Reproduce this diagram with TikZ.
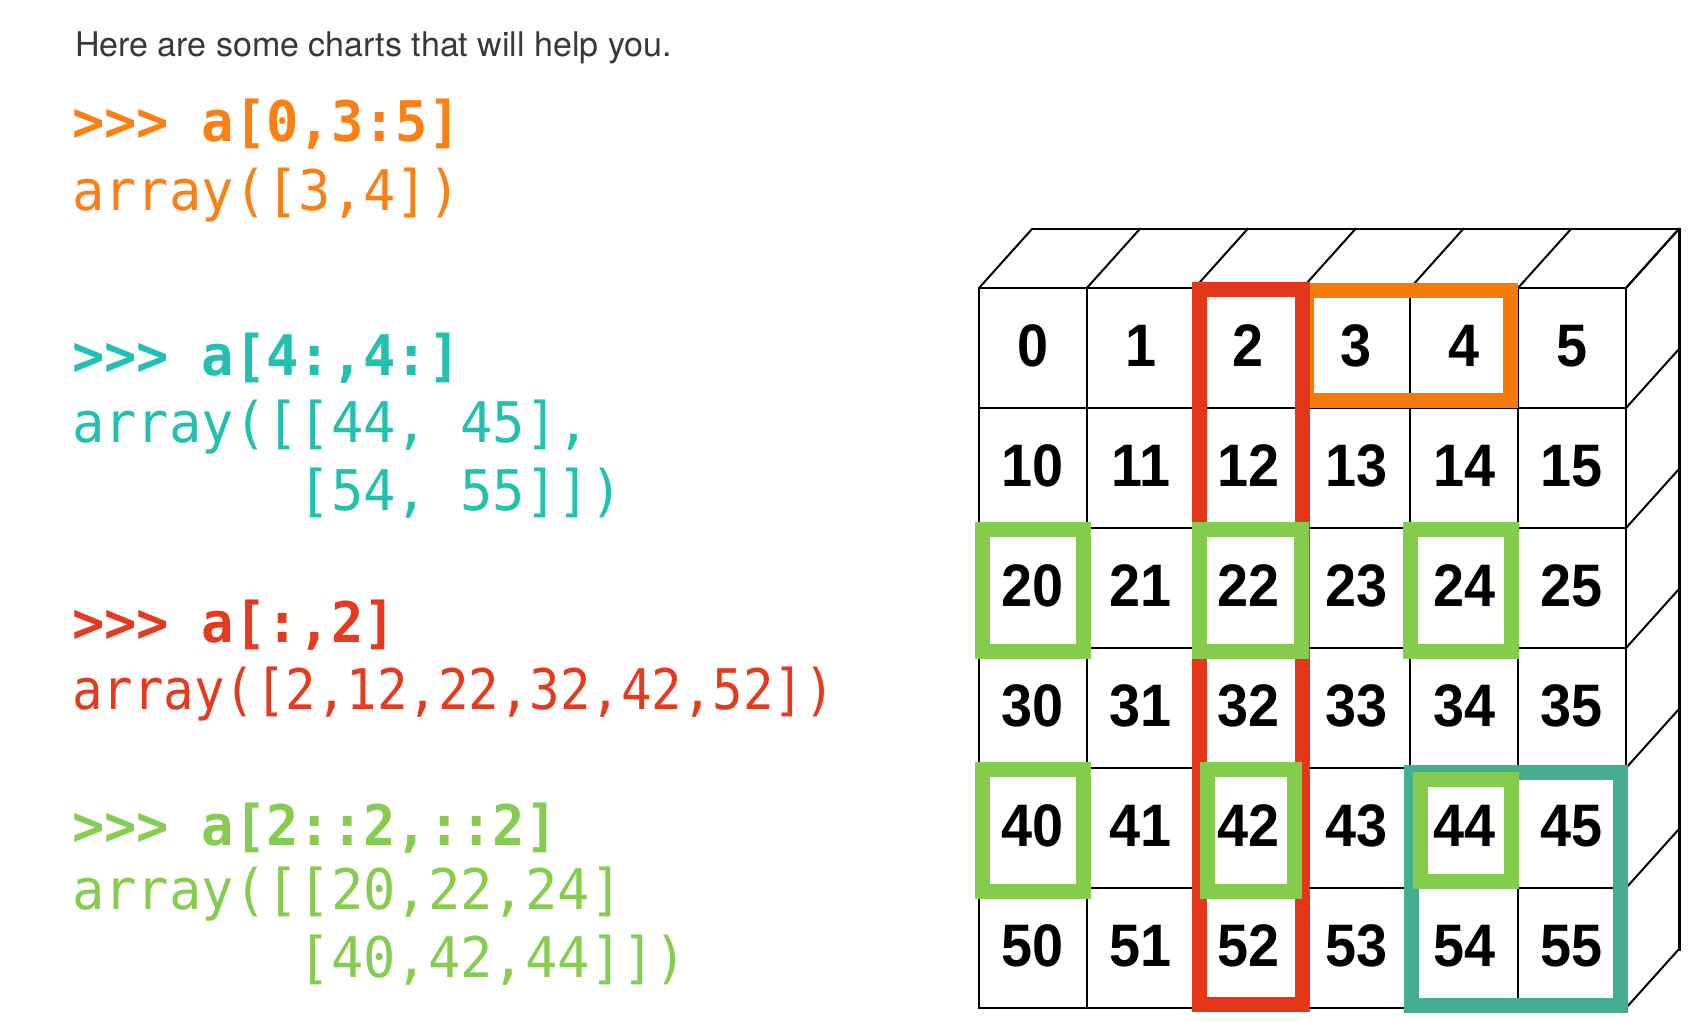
\documentclass[tikz,border=0pt]{standalone}
\usepackage{fontspec}
\newfontfamily\titlefont{TeX Gyre Heros}
\newfontfamily\codefont[FakeStretch=0.96]{DejaVu Sans Mono}
\newfontfamily\codenarrow[FakeStretch=0.905]{DejaVu Sans Mono}
\newfontfamily\numfont[FakeStretch=0.93]{Liberation Sans}
\newcommand\pyprompt{>\kern0pt>\kern0pt>}
\definecolor{titlegray}{HTML}{383838}
\definecolor{txtorange}{HTML}{FA8014}
\definecolor{txtteal}{HTML}{22C0AE}
\definecolor{txtred}{HTML}{E63A1F}
\definecolor{txtgreen}{HTML}{86CC50}
\definecolor{boxorange}{HTML}{F87A06}
\definecolor{boxred}{HTML}{E4371A}
\definecolor{boxgreen}{HTML}{85CC4C}
\definecolor{boxteal}{HTML}{45AD91}
\begin{document}
\begin{tikzpicture}[x=1pt,y=-1pt,
  titletext/.style={anchor=base west, inner sep=0pt, text=titlegray,
    font={\titlefont\fontsize{34}{40}\selectfont}},
  codeline/.style={anchor=base west, inner sep=0pt,
    font={\codefont\fontsize{56}{60}\selectfont}},
  cellnum/.style={inner sep=0pt, font={\numfont\bfseries\fontsize{60}{60}\selectfont}},
  gridline/.style={line width=2pt, black, line cap=rect},
  hlbox/.style={line width=15pt, line join=miter}]
\fill[white] (0,0) rectangle (1690,1022);
\useasboundingbox (0,0) rectangle (1690,1022);

% title
\node[titletext] (title) at (75,57) {Here are some charts that will help you.};

% code blocks
\node[codeline, text=txtorange] (o1) at (72,142) {\bfseries\pyprompt{} a[0,3:5]};
\node[codeline, text=txtorange] (o2) at (72,211) {array([3,4])};

\node[codeline, text=txtteal] (t1) at (72,375) {\bfseries\pyprompt{} a[4:,4:]};
\node[codeline, text=txtteal] (t2) at (72,442) {array([[44, 45],};
\node[codeline, text=txtteal] (t3) at (72,510) {\hphantom{array([}[54, 55]])};

\node[codeline, text=txtred] (r1) at (72,642) {\bfseries\pyprompt{} a[:,2]};
\node[codeline, text=txtred] (r2) at (72,709) {\codenarrow array([2,12,22,32,42,52])};

\node[codeline, text=txtgreen] (g1) at (72,845) {\bfseries\pyprompt{} a[2::2,::2]};
\node[codeline, text=txtgreen] (g2) at (72,909) {array([[20,22,24]};
\node[codeline, text=txtgreen] (g3) at (72,977) {\hphantom{array([}[40,42,44]])};

% cube grid
\foreach \i in {0,...,6} {
  \draw[gridline] ({979+107.8*\i},288) -- ({979+107.8*\i},1008);
  \draw[gridline] ({979+107.8*\i},288) -- ++(53,-59);
  \draw[gridline] (979,{288+120*\i}) -- (1626,{288+120*\i});
  \draw[gridline] (1626,{288+120*\i}) -- ++(53,-59);
}
\draw[gridline] (1032,229) -- (1679,229);
\draw[line width=3pt, black, line cap=rect] (1679,229) -- (1679,949);

% numbers
\foreach \r in {0,...,5} {
  \foreach \c in {0,...,5} {
    \node[cellnum] (n\r\c) at ({979+107.8*(\c+0.5)},{288+120*(\r+0.5)-2}) {\the\numexpr 10*\r+\c\relax};
  }
}

% highlight boxes
\draw[hlbox, boxorange] (1306.5,290.5) rectangle (1510.5,400);
\draw[hlbox, boxred] (1199,289.5) rectangle (1302,1004.5);
\draw[hlbox, boxteal] (1411.5,772) rectangle (1620.5,1005);
\draw[hlbox, boxgreen] (982,529) rectangle (1083,651);
\draw[hlbox, boxgreen] (1199,529) rectangle (1301,651);
\draw[hlbox, boxgreen] (1410.5,529) rectangle (1511.5,651);
\draw[hlbox, boxgreen] (982,769) rectangle (1083,891.5);
\draw[hlbox, boxgreen] (1207,769) rectangle (1294,891.5);
\draw[hlbox, boxgreen] (1420,779.5) rectangle (1511.5,881);
\end{tikzpicture}
\end{document}
